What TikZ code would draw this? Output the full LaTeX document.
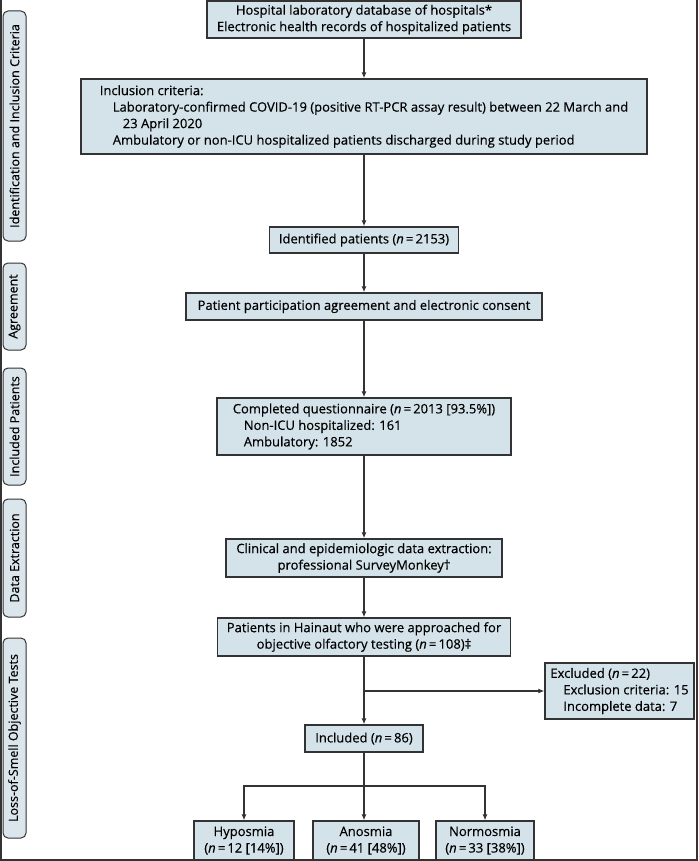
\documentclass[tikz,border=0pt]{standalone}
\usepackage{fontspec}
\setmainfont{Open Sans}[FakeBold=0.35]
\usepackage{xcolor}
\usepackage{tikz}
\usetikzlibrary{arrows.meta,positioning}
\definecolor{cBox}{HTML}{D4E2EA}
\definecolor{cTab}{HTML}{DAE5EC}
\definecolor{cLine}{HTML}{333333}
\tikzset{
  arrow/.style={-{Latex[length=6pt,width=5pt]}, line width=1.1pt, draw=cLine},
  line/.style ={line width=1.1pt, draw=cLine},
  box/.style  ={draw=cLine, fill=cBox, line width=1.4pt, inner sep=0pt, align=center,
                font=\fontsize{13}{16.5}\selectfont},
  lbox/.style ={box, align=left},
  tab/.style  ={draw=cLine, fill=cTab, line width=1pt, rounded corners=5pt, rotate=90,
                minimum height=23pt, inner sep=0pt, font=\fontsize{12.5}{14}\selectfont},
}
\newcommand{\nn}{\textit{n}\,=\,}
\newcommand{\ind}{\hspace*{13pt}}

\begin{document}
\begin{tikzpicture}[x=1pt,y=-1pt]
        \useasboundingbox (0,0) rectangle (698,861);
        % frame
        \draw[cLine,line width=1.6pt] (1,0) -- (1,860) -- (697,860) -- (697,0);
        % stage tabs
        \node[tab, minimum width=230] (t1) at (14.5,126){Identification and Inclusion Criteria};
        \node[tab, minimum width=87] (t2) at (14.5,306.5){Agreement};
        \node[tab, minimum width=117] (t3) at (14.5,426.5){Included Patients};
        \node[tab, minimum width=118] (t4) at (14.5,558){Data Extraction};
        \node[tab, minimum width=200] (t5) at (14.5,738){Loss-of-Smell Objective Tests};
        % flow boxes
        \node[box, minimum width=314, minimum height=37] (db) at (364,19.5)
          {Hospital laboratory database of hospitals*\\Electronic health records of hospitalized patients};
        \node[lbox, minimum width=566, minimum height=75] (crit) at (364,116.5)
          {Inclusion criteria:\\
           \ind Laboratory-confirmed COVID-19 (positive RT-PCR assay result) between 22 March and\\
           \ind\hspace*{10pt}23 April 2020\\
           \ind Ambulatory or non-ICU hospitalized patients discharged during study period};
        \node[box, minimum width=189, minimum height=26] (idp) at (364,240)
          {Identified patients (\nn 2153)};
        \node[box, minimum width=356, minimum height=27] (agr) at (364,306.5)
          {Patient participation agreement and electronic consent};
        \node[lbox, minimum width=294, minimum height=57] (qst) at (364,426.5)
          {Completed questionnaire (\nn 2013 [93.5\%])\\
           \hspace*{11pt}Non-ICU hospitalized: 161\\
           \hspace*{11pt}Ambulatory: 1852};
        \node[box, minimum width=276, minimum height=38] (ext) at (364,558)
          {Clinical and epidemiologic data extraction:\\professional SurveyMonkey\textdagger};
        \node[box, minimum width=293, minimum height=38] (hai) at (364,637)
          {Patients in Hainaut who were approached for\\objective olfactory testing (\nn 108)\textdaggerdbl};
        \node[lbox, minimum width=149, minimum height=56] (exc) at (619.5,691)
          {Excluded (\nn 22)\\
           \ind Exclusion criteria: 15\\
           \ind Incomplete data: 7};
        \node[box, minimum width=118, minimum height=27] (inc) at (364,738.5)
          {Included (\nn 86)};
        \node[box, minimum width=100, minimum height=39] (hyp) at (244,840.5)
          {Hyposmia\\(\nn 12 [14\%])};
        \node[box, minimum width=106, minimum height=39] (ano) at (366,840.5)
          {Anosmia\\(\nn 41 [48\%])};
        \node[box, minimum width=98, minimum height=39] (nor) at (485,840.5)
          {Normosmia\\(\nn 33 [38\%])};
        \coordinate (brk) at (364,691);
        \coordinate (spl) at (364,786);
        % connectors
        \draw[arrow](db)--(crit); \draw[arrow](crit)--(idp);
        \draw[arrow](idp)--(agr); \draw[arrow](agr)--(qst);
        \draw[arrow](qst)--(ext); \draw[arrow](ext)--(hai);
        \draw[arrow](hai)--(inc); \draw[arrow](brk)--(exc.west);
        \draw[line](inc)--(spl);
        \draw[arrow](spl)-|(hyp); \draw[arrow](spl)-|(nor);
        \draw[arrow](spl)--(spl |- ano.north);
      \end{tikzpicture}
\end{document}
